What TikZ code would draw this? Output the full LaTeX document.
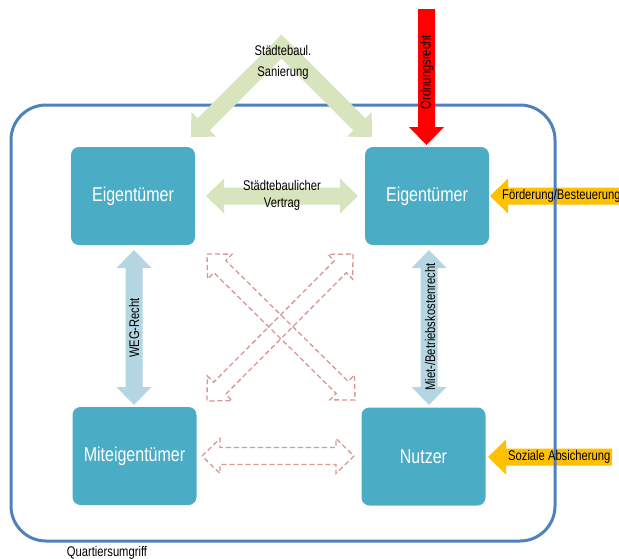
\documentclass[tikz,border=0pt]{standalone}
\usepackage{fontspec}
\setmainfont{Liberation Sans}[FakeStretch=0.8]
\usetikzlibrary{calc}
\definecolor{frameblue}{HTML}{4F81BD}
\definecolor{boxteal}{HTML}{4BACC6}
\definecolor{lightgreen}{HTML}{D7E4BD}
\definecolor{lightblue}{HTML}{B4D6E2}
\definecolor{signorange}{HTML}{FFC000}
\definecolor{dashpink}{HTML}{D99694}

% block arrow with two heads, from #2 to #3
\newcommand{\dblarrow}[3]{%
\path[#1] (#2) -- ($(#2)!18pt!(#3)!17.5pt!90:(#3)$) -- ($(#2)!18pt!(#3)!8.5pt!90:(#3)$)
 -- ($(#3)!18pt!(#2)!8.5pt!-90:(#2)$) -- ($(#3)!18pt!(#2)!17.5pt!-90:(#2)$) -- (#3)
 -- ($(#3)!18pt!(#2)!17.5pt!90:(#2)$) -- ($(#3)!18pt!(#2)!8.5pt!90:(#2)$)
 -- ($(#2)!18pt!(#3)!8.5pt!-90:(#3)$) -- ($(#2)!18pt!(#3)!17.5pt!-90:(#3)$) -- cycle;}
% block arrow with one head at #3
\newcommand{\sglarrow}[3]{%
\path[#1] ($(#2)!8.5pt!90:(#3)$) -- ($(#3)!18pt!(#2)!8.5pt!-90:(#2)$) -- ($(#3)!18pt!(#2)!17.5pt!-90:(#2)$)
 -- (#3) -- ($(#3)!18pt!(#2)!17.5pt!90:(#2)$) -- ($(#3)!18pt!(#2)!8.5pt!90:(#2)$)
 -- ($(#2)!8.5pt!-90:(#3)$) -- cycle;}

\tikzset{
party/.style={fill=boxteal, rounded corners=8pt, minimum width=124pt, minimum height=98pt, inner sep=0pt, text=white, font=\fontsize{20}{24}\selectfont},
lbl/.style={inner sep=0pt, align=center, font=\fontsize{14}{17}\selectfont},
greenarr/.style={fill=lightgreen},
bluearr/.style={fill=lightblue},
orangearr/.style={fill=signorange},
redarr/.style={fill=red},
dashedarr/.style={draw=dashpink, line width=1.3pt, dash pattern=on 5pt off 3pt, line join=miter}
}

\begin{document}
\begin{tikzpicture}[x=1pt, y=-1pt]
\path[use as bounding box, clip] (0,0) rectangle (619,558);

% outside influences
\coordinate (foerdS) at (625,196);
\coordinate (foerdT) at (490,196);
\coordinate (sozS) at (612,457);
\coordinate (sozT) at (488,457);
\sglarrow{orangearr}{foerdS}{foerdT}
\sglarrow{orangearr}{sozS}{sozT}

\draw[frameblue, line width=3pt, rounded corners=35pt] (11,105) rectangle (555,541);
\node[lbl] (quartier) at (107,553) {Quartiersumgriff};

\node[party] (eigL) at (133,196) {Eigentümer};
\node[party] (eigR) at (427,196) {Eigentümer};
\node[party] (mitE) at (134.5,456) {Miteigentümer};
\node[party] (nutz) at (423.5,456.5) {Nutzer};

% Sanierung
\coordinate (sanL) at (191,137);
\coordinate (sanC) at (281.5,46.5);
\coordinate (sanR) at (372,137);
\path[greenarr] (sanL) -- ($(sanL)!18pt!(sanC)!17.5pt!90:(sanC)$) -- ($(sanL)!18pt!(sanC)!8.5pt!90:(sanC)$)
 -- ($(sanC)+(0,-12)$) -- ($(sanR)!18pt!(sanC)!8.5pt!-90:(sanC)$) -- ($(sanR)!18pt!(sanC)!17.5pt!-90:(sanC)$)
 -- (sanR) -- ($(sanR)!18pt!(sanC)!17.5pt!90:(sanC)$) -- ($(sanR)!18pt!(sanC)!8.5pt!90:(sanC)$)
 -- ($(sanC)+(0,12)$) -- ($(sanL)!18pt!(sanC)!8.5pt!-90:(sanC)$) -- ($(sanL)!18pt!(sanC)!17.5pt!-90:(sanC)$) -- cycle;
\node[lbl, font=\fontsize{14}{21}\selectfont] (sanText) at (283,62.5) {Städtebaul.\\Sanierung};

% Vertrag
\coordinate (vertL) at (206,196);
\coordinate (vertR) at (358,196);
\dblarrow{greenarr}{vertL}{vertR}
\node[lbl] (vertText) at (282,195) {Städtebaulicher\\Vertrag};

% Ordnungsrecht
\coordinate (ordS) at (426.5,9);
\coordinate (ordT) at (426.5,145);
\sglarrow{redarr}{ordS}{ordT}
\node[lbl, rotate=90] (ordText) at (427,72) {Ordnungsrecht};

\node[lbl, anchor=west] (foerdText) at (502,195.5) {Förderung/Besteuerung};
\node[lbl, anchor=west] (sozText) at (508,457) {Soziale Absicherung};

% Rechtsbeziehungen
\coordinate (wegT) at (134,250);
\coordinate (wegB) at (134,405);
\dblarrow{bluearr}{wegT}{wegB}
\node[lbl, rotate=90] (wegText) at (134,328) {WEG-Recht};
\coordinate (mietT) at (429,250);
\coordinate (mietB) at (429,405);
\dblarrow{bluearr}{mietT}{mietB}
\node[lbl, rotate=90] (mietText) at (430,327) {Miet-/Betriebskostenrecht};

% offene Beziehungen
\coordinate (xTL) at (207,254);
\coordinate (xBR) at (355,400);
\coordinate (xTR) at (353,254);
\coordinate (xBL) at (207,401);
\dblarrow{dashedarr}{xTL}{xBR}
\dblarrow{dashedarr}{xTR}{xBL}
\coordinate (unterL) at (202,456);
\coordinate (unterR) at (354,456);
\dblarrow{dashedarr}{unterL}{unterR}
\end{tikzpicture}
\end{document}
